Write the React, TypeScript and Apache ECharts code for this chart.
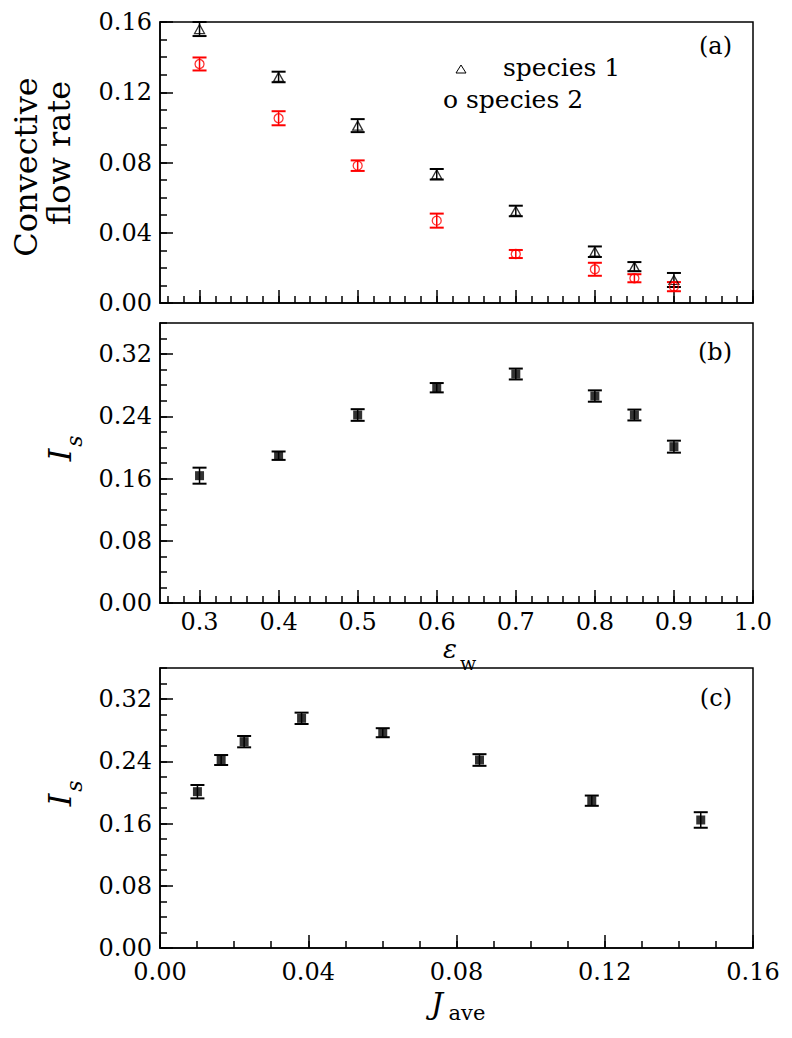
import React, { useEffect, useRef } from "react";
import * as echarts from "echarts";

// ---- data ----
const epsW = [0.3, 0.4, 0.5, 0.6, 0.7, 0.8, 0.85, 0.9];
const flow1 = [0.156, 0.1287, 0.101, 0.0733, 0.0524, 0.0292, 0.0207, 0.0131];
const flow1Err = [0.004, 0.003, 0.0037, 0.003, 0.003, 0.003, 0.0026, 0.004];
const flow2 = [0.1361, 0.1052, 0.0782, 0.0469, 0.0279, 0.0192, 0.0141, 0.0093];
const flow2Err = [0.0037, 0.004, 0.003, 0.004, 0.0023, 0.0037, 0.0023, 0.0026];
const isB = [0.1637, 0.1894, 0.2417, 0.2768, 0.2944, 0.2661, 0.2417, 0.201];
const isBErr = [0.0103, 0.0054, 0.0075, 0.006, 0.007, 0.0073, 0.007, 0.0077];
const jAve = [0.0101, 0.0165, 0.0227, 0.0382, 0.0601, 0.0862, 0.1165, 0.1459];
const isC = [0.201, 0.2417, 0.2653, 0.2953, 0.2768, 0.2417, 0.1894, 0.1646];
const isCErr = [0.0086, 0.0064, 0.0073, 0.0073, 0.0058, 0.0075, 0.0066, 0.01];

const xMajorAB = [0.3, 0.4, 0.5, 0.6, 0.7, 0.8, 0.9, 1.0];
const yMajorA = [0, 0.04, 0.08, 0.12, 0.16];
const yMajorBC = [0, 0.08, 0.16, 0.24, 0.32];
const xMajorC = [0, 0.04, 0.08, 0.12, 0.16];

const steps = (a: number, b: number, s: number) => {
  const out: number[] = [];
  const n = Math.round((b - a) / s);
  for (let i = 0; i <= n; i++) out.push(+(a + i * s).toFixed(6));
  return out;
};
const xMinorAB = steps(0.26, 1.0, 0.02);
const yMinorA = steps(0, 0.16, 0.01);
const yMinorBC = steps(0, 0.36, 0.02);
const xMinorC = steps(0, 0.16, 0.01);

const FAM = "DejaVu Serif";

function axisPair(
  gridIndex: number,
  position: string,
  min: number,
  max: number,
  major: number[],
  minor: number[],
  showLabel: boolean,
  digits: number,
  margin: number
) {
  const main = {
    type: "value",
    gridIndex,
    position,
    min,
    max,
    axisLine: { show: true, onZero: false, lineStyle: { color: "#000", width: 1.5 } },
    axisTick: { show: true, inside: true, length: 13, lineStyle: { color: "#000", width: 1.5 }, customValues: major },
    axisLabel: {
      show: showLabel,
      customValues: major,
      formatter: (v: number) => v.toFixed(digits),
      color: "#000",
      fontFamily: FAM,
      fontSize: 24,
      margin,
    },
    splitLine: { show: false },
  };
  const mnr = {
    type: "value",
    gridIndex,
    position,
    min,
    max,
    axisLine: { show: false },
    axisTick: { show: true, inside: true, length: 7, lineStyle: { color: "#000", width: 1.5 }, customValues: minor },
    axisLabel: { show: false },
    splitLine: { show: false },
  };
  return [main, mnr];
}

function errSeries(xi: number, yi: number, xs: number[], ys: number[], err: number[], color: string) {
  return {
    type: "custom",
    xAxisIndex: xi,
    yAxisIndex: yi,
    data: xs.map((x, i) => [x, ys[i] - err[i], ys[i] + err[i]]),
    encode: { x: 0, y: [1, 2] },
    z: 2,
    renderItem: (params: any, api: any) => {
      const x = api.value(0);
      const lo = api.coord([x, api.value(1)]);
      const hi = api.coord([x, api.value(2)]);
      const hw = 7;
      return {
        type: "group",
        children: [
          { type: "line", shape: { x1: lo[0], y1: lo[1], x2: hi[0], y2: hi[1] }, style: { stroke: color, lineWidth: 1.5 } },
          { type: "line", shape: { x1: lo[0] - hw, y1: lo[1], x2: lo[0] + hw, y2: lo[1] }, style: { stroke: color, lineWidth: 2 } },
          { type: "line", shape: { x1: hi[0] - hw, y1: hi[1], x2: hi[0] + hw, y2: hi[1] }, style: { stroke: color, lineWidth: 2 } },
        ],
      };
    },
  };
}

const txt = (x: number, y: number, text: string, size: number, extra: any = {}) => ({
  type: "text",
  x,
  y,
  rotation: extra.rotation || 0,
  style: {
    text,
    fontFamily: FAM,
    fontSize: size,
    fontStyle: extra.italic ? "italic" : "normal",
    fill: "#000",
    align: extra.align || "center",
    verticalAlign: "middle",
  },
});

export default function App() {
  const ref = useRef<HTMLDivElement>(null);
  useEffect(() => {
    document.body.style.margin = "0";
    if (!ref.current) return;
    const chart = echarts.init(ref.current, null, { renderer: "svg" });
    const gridBase = { left: 160, width: 593, show: true, borderColor: "#000", borderWidth: 1.5, backgroundColor: "transparent" };
    const [xa0, xa1] = axisPair(0, "bottom", 0.25, 1.0, xMajorAB, xMinorAB, false, 1, 6);
    const [ya0, ya1] = axisPair(0, "left", 0, 0.16, yMajorA, yMinorA, true, 2, 8);
    const [xb0, xb1] = axisPair(1, "bottom", 0.25, 1.0, xMajorAB, xMinorAB, true, 1, 7);
    const [yb0, yb1] = axisPair(1, "left", 0, 0.36, yMajorBC, yMinorBC, true, 2, 8);
    const [xc0, xc1] = axisPair(2, "bottom", 0, 0.16, xMajorC, xMinorC, true, 2, 12);
    const [yc0, yc1] = axisPair(2, "left", 0, 0.36, yMajorBC, yMinorBC, true, 2, 8);

    const option: any = {
      animation: false,
      backgroundColor: "#fff",
      textStyle: { fontFamily: FAM },
      grid: [
        { ...gridBase, top: 22, height: 281 },
        { ...gridBase, top: 323, height: 280 },
        { ...gridBase, top: 668, height: 280 },
      ],
      xAxis: [xa0, xa1, xb0, xb1, xc0, xc1],
      yAxis: [ya0, ya1, yb0, yb1, yc0, yc1],
      series: [
        errSeries(0, 0, epsW, flow1, flow1Err, "#000"),
        errSeries(0, 0, epsW, flow2, flow2Err, "#ff0000"),
        {
          type: "scatter",
          name: "species 1",
          xAxisIndex: 0,
          yAxisIndex: 0,
          data: epsW.map((x, i) => [x, flow1[i]]),
          symbol: "triangle",
          symbolSize: [10, 9],
          itemStyle: { color: "rgba(0,0,0,0)", borderColor: "#000", borderWidth: 1.3 },
          z: 3,
        },
        {
          type: "scatter",
          name: "species 2",
          xAxisIndex: 0,
          yAxisIndex: 0,
          data: epsW.map((x, i) => [x, flow2[i]]),
          symbol: "circle",
          symbolSize: 9,
          itemStyle: { color: "rgba(0,0,0,0)", borderColor: "#ff0000", borderWidth: 1.3 },
          z: 3,
        },
        errSeries(2, 2, epsW, isB, isBErr, "#000"),
        {
          type: "scatter",
          xAxisIndex: 2,
          yAxisIndex: 2,
          data: epsW.map((x, i) => [x, isB[i]]),
          symbol: "rect",
          symbolSize: [9, 9],
          itemStyle: { color: "#000" },
          z: 3,
        },
        errSeries(4, 4, jAve, isC, isCErr, "#000"),
        {
          type: "scatter",
          xAxisIndex: 4,
          yAxisIndex: 4,
          data: jAve.map((x, i) => [x, isC[i]]),
          symbol: "rect",
          symbolSize: [9, 9],
          itemStyle: { color: "#000" },
          z: 3,
        },
      ],
      graphic: [
        txt(732, 46, "(a)", 24, { align: "right" }),
        txt(732, 352, "(b)", 24, { align: "right" }),
        txt(732, 698, "(c)", 24, { align: "right" }),
        // legend
        {
          type: "polygon",
          shape: { points: [[456, 73], [466, 73], [461, 65]] },
          style: { fill: "none", stroke: "#000", lineWidth: 1 },
        },
        txt(503, 67, "species 1", 25, { align: "left" }),
        txt(443, 99, "o species 2", 25, { align: "left" }),
        // y title (a)
        txt(26, 167, "Convective", 32, { rotation: Math.PI / 2 }),
        txt(59, 153, "flow rate", 32, { rotation: Math.PI / 2 }),
        // I_s (b)
        {
          type: "group",
          x: 60,
          y: 455,
          rotation: Math.PI / 2,
          children: [txt(0, 0, "I", 32, { italic: true }), txt(14, 14, "s", 22, { italic: true })],
        },
        // I_s (c)
        {
          type: "group",
          x: 60,
          y: 800,
          rotation: Math.PI / 2,
          children: [txt(0, 0, "I", 32, { italic: true }), txt(14, 14, "s", 22, { italic: true })],
        },
        // epsilon_w
        txt(450, 649, "ε", 26, { italic: true }),
        txt(468, 663, "w", 19),
        // J_ave
        txt(437, 1003, "J", 30, { italic: true }),
        txt(467, 1013, "ave", 21),
      ],
    };
    chart.setOption(option);
    return () => chart.dispose();
  }, []);
  return <div ref={ref} style={{ width: 792, height: 1038 }} />;
}
